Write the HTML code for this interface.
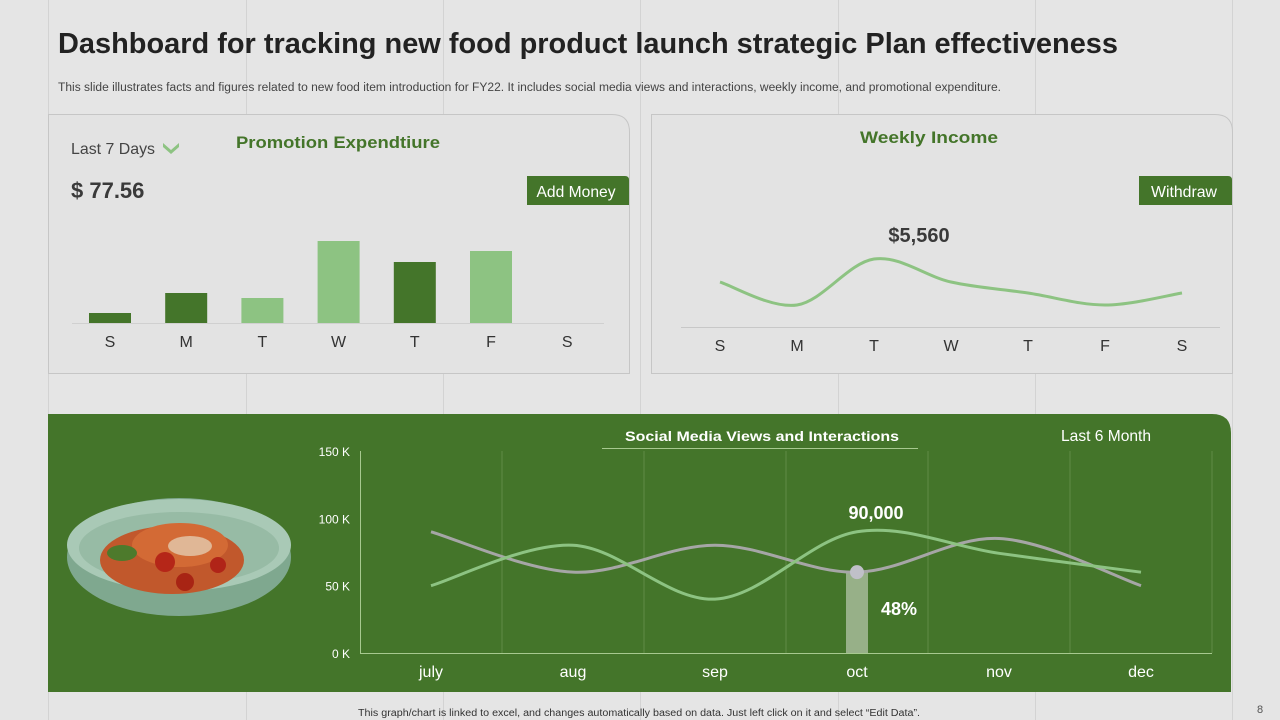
<!DOCTYPE html>
<html><head><meta charset="utf-8"><style>
body{margin:0;width:1280px;height:720px;overflow:hidden;background:#e5e5e5;font-family:"Liberation Sans",sans-serif}
svg{display:block}
</style></head><body>
<svg id="s" width="1280" height="720" viewBox="0 0 1280 720">
<g stroke="#d3d3d3" stroke-width="1">
<line x1="48.5" y1="0" x2="48.5" y2="720"/><line x1="246.5" y1="0" x2="246.5" y2="720"/><line x1="443.5" y1="0" x2="443.5" y2="720"/><line x1="640.5" y1="0" x2="640.5" y2="720"/><line x1="838.5" y1="0" x2="838.5" y2="720"/><line x1="1035.5" y1="0" x2="1035.5" y2="720"/><line x1="1232.5" y1="0" x2="1232.5" y2="720"/>
</g>
<text x="58" y="53" font-size="29" font-weight="bold" fill="#222" textLength="1060" lengthAdjust="spacingAndGlyphs">Dashboard for tracking new food product launch strategic Plan effectiveness</text>
<text x="58" y="91" font-size="11.5" fill="#444" textLength="943" lengthAdjust="spacingAndGlyphs">This slide illustrates facts and figures related to new food item introduction for FY22.  It includes social media views and interactions, weekly income, and promotional expenditure.</text>

<path d="M48.5,114.5 H612 Q629.5,114.5 629.5,132 V373.5 H48.5 Z" fill="#e3e3e3" stroke="#c6c6c6"/>
<text x="71" y="154" font-size="16" fill="#444" textLength="84" lengthAdjust="spacingAndGlyphs">Last 7 Days</text>
<path d="M163,143 L171,150 L179,143 L179,147 L171,154 L163,147 Z" fill="#8dc382"/>
<text x="338" y="148" font-size="17" font-weight="bold" fill="#44752a" text-anchor="middle" textLength="204" lengthAdjust="spacingAndGlyphs">Promotion Expendtiure</text>
<text x="71" y="198" font-size="22" font-weight="bold" fill="#3a3a3a">$ 77.56</text>
<path d="M527,176 H625 Q629,176 629,180 V205 H527 Z" fill="#44752a"/>
<text x="576" y="197" font-size="16" fill="#fff" text-anchor="middle" textLength="79" lengthAdjust="spacingAndGlyphs">Add Money</text>
<line x1="72" y1="323.5" x2="604" y2="323.5" stroke="#d0d0d0"/>
<g id="bars"></g>

<path d="M651.5,114.5 H1215 Q1232.5,114.5 1232.5,132 V373.5 H651.5 Z" fill="#e3e3e3" stroke="#c6c6c6"/>
<text x="929" y="143" font-size="17" font-weight="bold" fill="#44752a" text-anchor="middle" textLength="138" lengthAdjust="spacingAndGlyphs">Weekly Income</text>
<path d="M1139,176 H1228 Q1232,176 1232,180 V205 H1139 Z" fill="#44752a"/>
<text x="1184" y="197" font-size="16" fill="#fff" text-anchor="middle" textLength="66" lengthAdjust="spacingAndGlyphs">Withdraw</text>
<line x1="681" y1="327.5" x2="1220" y2="327.5" stroke="#c8c8c8"/>
<g id="income"></g>

<path d="M48,414 H1212 Q1231,414 1231,433 V692 H48 Z" fill="#44752a"/>
<g>
<ellipse cx="179" cy="557" rx="112" ry="59" fill="#7fa88f"/>
<ellipse cx="179" cy="545" rx="112" ry="46" fill="#a9c9b6"/>
<ellipse cx="179" cy="548" rx="100" ry="36" fill="#97bba5"/>
<ellipse cx="172" cy="560" rx="72" ry="34" fill="#c1582c"/>
<ellipse cx="180" cy="545" rx="48" ry="22" fill="#d36a35"/>
<circle cx="165" cy="562" r="10" fill="#b52618"/><circle cx="185" cy="582" r="9" fill="#a82414"/><circle cx="218" cy="565" r="8" fill="#b02418"/>
<ellipse cx="122" cy="553" rx="15" ry="8" fill="#4d7a2c"/>
<ellipse cx="190" cy="546" rx="22" ry="10" fill="#e6d9c0" opacity="0.7"/>
</g>
<text x="762" y="441" font-size="14" font-weight="bold" fill="#fff" text-anchor="middle" textLength="274" lengthAdjust="spacingAndGlyphs">Social Media Views and Interactions</text>
<line x1="602" y1="448.5" x2="918" y2="448.5" stroke="#a7c98f"/>
<text x="1106" y="441" font-size="16" fill="#fff" text-anchor="middle" textLength="90" lengthAdjust="spacingAndGlyphs">Last 6 Month</text>
<g id="social"></g>

<text x="358" y="716" font-size="10" fill="#333" textLength="562" lengthAdjust="spacingAndGlyphs">This graph/chart is linked to excel, and changes automatically based on data. Just left click on it and select “Edit Data”.</text>
<text x="1257" y="713" font-size="11" fill="#555">8</text>
</svg>
<script>
const NS="http://www.w3.org/2000/svg";
const days=["S","M","T","W","T","F","S"];
const promoValues=[10,30,25,82,61,72,0];
const promoColors=["d","d","l","l","d","l","l"];
const incomeValues=[3680,1800,5560,3680,2780,1800,2780];
const incomeLabel="$5,560";
const months=["july","aug","sep","oct","nov","dec"];
const viewsValues=[50,80,40,90,74,60];
const interactionsValues=[90,60,80,60,85,50];
const yTicks=[0,50,100,150];
const yTickLabels=["0 K","50 K","100 K","150 K"];
const highlightIndex=3;
const highlightValueLabel="90,000";
const highlightPctLabel="48%";

function mk(tag,attrs,parent){const e=document.createElementNS(NS,tag);for(const k in attrs)e.setAttribute(k,attrs[k]);parent.appendChild(e);return e;}
function smooth(pts){let d="M"+pts[0][0]+","+pts[0][1];for(let i=0;i<pts.length-1;i++){const p0=pts[Math.max(0,i-1)],p1=pts[i],p2=pts[i+1],p3=pts[Math.min(pts.length-1,i+2)];const c1=[p1[0]+(p2[0]-p0[0])/6,p1[1]+(p2[1]-p0[1])/6],c2=[p2[0]-(p3[0]-p1[0])/6,p2[1]-(p3[1]-p1[1])/6];d+=" C"+c1[0]+","+c1[1]+" "+c2[0]+","+c2[1]+" "+p2[0]+","+p2[1];}return d;}

const bg=document.getElementById("bars");
const bx=i=>110+i*76.2, by=v=>323-v;
promoValues.forEach((v,i)=>{
 if(v>0){const r=mk("rect",{x:bx(i)-21,y:by(v),width:42,height:v,fill:promoColors[i]=="d"?"#44752a":"#8dc382"},bg);
 
 }
 const t=mk("text",{x:bx(i),y:347,"font-size":16,fill:"#333","text-anchor":"middle"},bg);t.textContent=days[i];
 
 
});

const ig=document.getElementById("income");
const ix=i=>720+i*77, iy=v=>327-v/81.8;
const ipts=incomeValues.map((v,i)=>[ix(i),iy(v)]);
const ip=mk("path",{d:smooth(ipts),fill:"none",stroke:"#8dc382","stroke-width":3},ig);


days.forEach((d,i)=>{const t=mk("text",{x:ix(i),y:351,"font-size":16,fill:"#333","text-anchor":"middle"},ig);t.textContent=d;
 
 });
const pk=incomeValues.indexOf(Math.max(...incomeValues));
const il=mk("text",{x:ix(pk)+45,y:iy(incomeValues[pk])-17,"font-size":20,"font-weight":"bold",fill:"#3a3a3a","text-anchor":"middle"},ig);il.textContent=incomeLabel;



const sg=document.getElementById("social");
const sx=i=>431+i*142, sy=v=>653-v*1.347;
[0,1,2,3,4,5].forEach(k=>{const x=360+(k+1)*142;const l=mk("line",{x1:x,y1:451,x2:x,y2:653,stroke:"#5f8c47","stroke-width":1},sg);
 
 });
const ya=mk("line",{x1:360.5,y1:451,x2:360.5,y2:653,stroke:"#a7c98f"},sg);


const xa=mk("line",{x1:360,y1:653.5,x2:1212,y2:653.5,stroke:"#a7c98f"},sg);


yTicks.forEach((v,i)=>{const t=mk("text",{x:350,y:sy(v)+5,"font-size":12,fill:"#fff","text-anchor":"end"},sg);t.textContent=yTickLabels[i];
 
 });
months.forEach((m,i)=>{const t=mk("text",{x:sx(i),y:677,"font-size":16,fill:"#fff","text-anchor":"middle"},sg);t.textContent=m;
 
 });
const hb=mk("rect",{x:sx(highlightIndex)-11,y:sy(interactionsValues[highlightIndex]),width:22,height:653-sy(interactionsValues[highlightIndex]),fill:"#97b088"},sg);


const gl=mk("path",{d:smooth(interactionsValues.map((v,i)=>[sx(i),sy(v)])),fill:"none",stroke:"#a6a6a6","stroke-width":3},sg);


const vl=mk("path",{d:smooth(viewsValues.map((v,i)=>[sx(i),sy(v)])),fill:"none",stroke:"#8dc382","stroke-width":3},sg);


const dot=mk("circle",{cx:sx(highlightIndex),cy:sy(interactionsValues[highlightIndex]),r:7,fill:"#c0c0c8"},sg);


const vt=mk("text",{x:sx(highlightIndex)+19,y:sy(viewsValues[highlightIndex])-13,"font-size":18,"font-weight":"bold",fill:"#fff","text-anchor":"middle"},sg);vt.textContent=highlightValueLabel;


const pt=mk("text",{x:899,y:615,"font-size":18,"font-weight":"bold",fill:"#fff","text-anchor":"middle"},sg);pt.textContent=highlightPctLabel;


</script>
</body></html>
